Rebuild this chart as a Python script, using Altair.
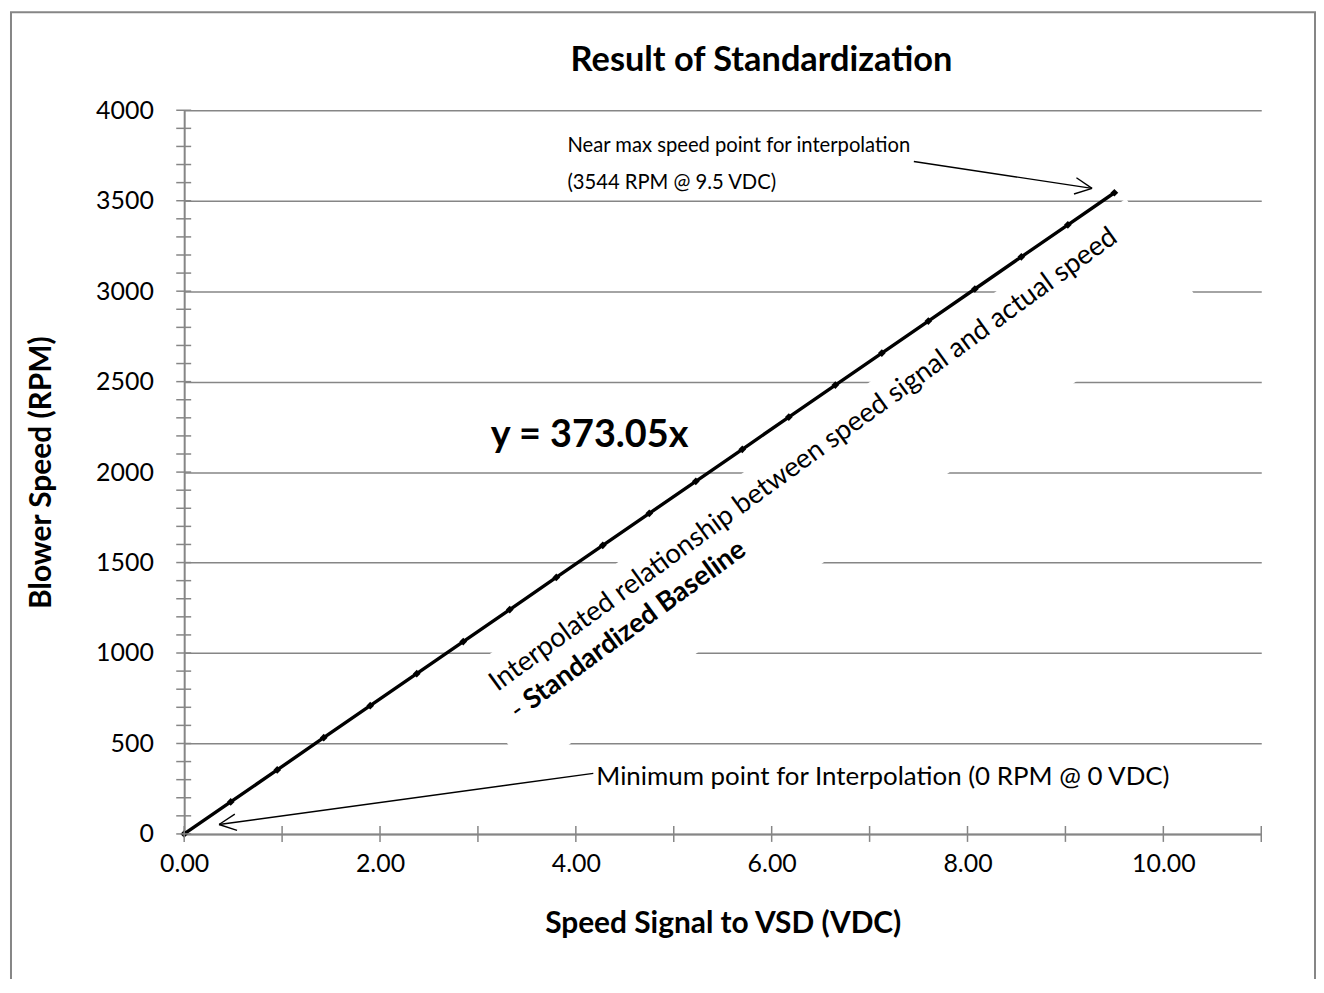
import math
import altair as alt
import pandas as pd

# ---------------- data ----------------
x_vdc = [0.00, 0.475, 0.95, 1.425, 1.90, 2.375, 2.85, 3.325, 3.80, 4.275, 4.75,
         5.225, 5.70, 6.175, 6.65, 7.125, 7.60, 8.075, 8.55, 9.025, 9.50]
rpm = [0, 177, 354, 532, 709, 886, 1063, 1240, 1418, 1595, 1772,
       1949, 2126, 2304, 2481, 2658, 2835, 3012, 3190, 3367, 3544]

x_tick_values = [0, 1, 2, 3, 4, 5, 6, 7, 8, 9, 10, 11]
x_label_values = [0, 2, 4, 6, 8, 10]
y_major_values = [0, 500, 1000, 1500, 2000, 2500, 3000, 3500, 4000]
y_minor_values = list(range(0, 4001, 100))

title_text = "Result of Standardization"
x_title = "Speed Signal to VSD (VDC)"
y_title = "Blower Speed (RPM)"
eq_text = "y = 373.05x"
max_note = ["Near max speed point for interpolation", "(3544 RPM @ 9.5 VDC)"]
min_note = "Minimum point for Interpolation (0 RPM @ 0 VDC)"
rot_line1 = "Interpolated relationship between speed signal and actual speed"
rot_dash = "-"
rot_bold = "Standardized Baseline"

# ---------------- layout / style ----------------
W, H = 1082, 727
XMAX, YMAX = 11, 4000
GRAY = "#868686"
FONT = "Lato"

xs = alt.Scale(domain=[0, XMAX], nice=False, zero=False)
ys = alt.Scale(domain=[0, YMAX], nice=False)


def to_px(x, y):
    return x * W / XMAX, H * (1 - y / YMAX)


def to_data(px, py):
    return px * XMAX / W, (1 - py / H) * YMAX


x_axis = alt.Axis(values=x_label_values, format=".2f", title=x_title, grid=False,
                  ticks=False, tickSize=0, domainColor=GRAY, domainWidth=2,
                  labelFlush=False, labelOverlap=False,
                  labelFont=FONT, labelFontSize=25, labelColor="black", labelPadding=18,
                  titleFont=FONT, titleFontSize=30, titleFontWeight="bold", titleColor="black",
                  titleY=90, titleBaseline="middle")
y_axis = alt.Axis(values=y_major_values, format="d", title=y_title, grid=True, gridColor=GRAY,
                  gridWidth=1.5, ticks=False, tickSize=0, domainColor=GRAY, domainWidth=2,
                  labelFlush=False, labelOverlap=False,
                  labelFont=FONT, labelFontSize=25, labelColor="black", labelPadding=31,
                  titleFont=FONT, titleFontSize=30, titleFontWeight="bold", titleColor="black",
                  titleAngle=270, titleX=-143, titleY=H / 2, titleAlign="center",
                  titleBaseline="middle")


def X():
    return alt.X("x:Q", scale=xs, axis=x_axis)


def Y():
    return alt.Y("y:Q", scale=ys, axis=y_axis)


df = pd.DataFrame({"x": x_vdc, "y": rpm})

# white text-box behind the rotated label (breaks the gridlines, as in the original)
box_df = pd.DataFrame({"x": [6.568], "y": [1923]})
box = alt.Chart(box_df).mark_point(
    shape="M-1,-0.146L1,-0.146L1,0.146L-1,0.146Z", filled=True, fill="white",
    strokeWidth=0, opacity=1, angle=324.4, size=824 ** 2,
).encode(x=X(), y=Y())

line = alt.Chart(df).mark_line(color="black", strokeWidth=3.4).encode(x=X(), y=Y())
pts = alt.Chart(df).mark_point(shape="diamond", filled=True, color="black", size=60,
                               opacity=1).encode(x=X(), y=Y())

ytick_df = pd.DataFrame({"y": y_minor_values})
yticks = alt.Chart(ytick_df).mark_rule(color=GRAY, strokeWidth=1.5).encode(
    y=Y(), x=alt.value(-8), x2=alt.value(7))
xtick_df = pd.DataFrame({"x": x_tick_values})
xticks = alt.Chart(xtick_df).mark_rule(color=GRAY, strokeWidth=1.5).encode(
    x=X(), y=alt.value(H - 8), y2=alt.value(H + 8))

# arrows (start -> tip, in data units) with open heads
arrows = [((7.452, 3717), (9.272, 3568)), ((4.178, 335), (0.356, 52))]
segs = []
for (sx, sy), (tx, ty) in arrows:
    segs.append({"x": sx, "y": sy, "x2": tx, "y2": ty})
    spx, spy = to_px(sx, sy)
    tpx, tpy = to_px(tx, ty)
    ang = math.atan2(spy - tpy, spx - tpx)
    for d in (-0.45, 0.45):
        wx = tpx + 19 * math.cos(ang + d)
        wy = tpy + 19 * math.sin(ang + d)
        dx_, dy_ = to_data(wx, wy)
        segs.append({"x": dx_, "y": dy_, "x2": tx, "y2": ty})
seg_df = pd.DataFrame(segs)
arrow_rules = alt.Chart(seg_df).mark_rule(color="black", strokeWidth=1.4).encode(
    x=X(), y=Y(), x2="x2:Q", y2="y2:Q")


def text_layer(txt, x, y, size, weight="normal", angle=0, dx=0, dy=0, align="left"):
    d = pd.DataFrame({"x": [x], "y": [y], "t": [txt]})
    return alt.Chart(d).mark_text(
        align=align, baseline="alphabetic", font=FONT, fontSize=size, fontWeight=weight,
        color="black", angle=angle, dx=dx, dy=dy,
    ).encode(x=X(), y=Y(), text="t:N")


t_max1 = text_layer(max_note[0], 3.914, 3772, 20.3)
t_max2 = text_layer(max_note[1], 3.914, 3563, 20.3)
t_min = text_layer(min_note, 4.209, 272, 26)
t_eq = text_layer(eq_text, 3.131, 2137, 38, weight="bold")
t_rot1 = text_layer(rot_line1, 3.2, 784, 27.5, angle=324)
t_rot2 = text_layer(rot_dash, 3.2, 784, 27.5, angle=324, dy=35)
t_rot3 = text_layer(rot_bold, 3.2, 784, 27.5, weight="bold", angle=324, dx=17, dy=35)

one = pd.DataFrame({"a": [0]})
title = alt.Chart(one).mark_text(
    text=title_text, font=FONT, fontSize=34.5, fontWeight="bold", color="black",
    align="center", baseline="alphabetic",
).encode(x=alt.value(580), y=alt.value(-39))

frame = alt.Chart(one).mark_rect(filled=False, stroke=GRAY, strokeWidth=2).encode(
    x=alt.value(-174), x2=alt.value(1136), y=alt.value(-98.5), y2=alt.value(920))

chart = alt.layer(
    box, line, pts, yticks, xticks, arrow_rules,
    t_max1, t_max2, t_min, t_eq, t_rot1, t_rot2, t_rot3, title, frame,
).properties(
    width=W, height=H,
    padding={"left": 177, "top": 100.5, "right": 55, "bottom": 143},
    autosize=alt.AutoSizeParams(type="none"),
    background="white",
).configure_view(stroke=None)

chart.save("out.html", embed_options={"renderer": "svg", "actions": False})
